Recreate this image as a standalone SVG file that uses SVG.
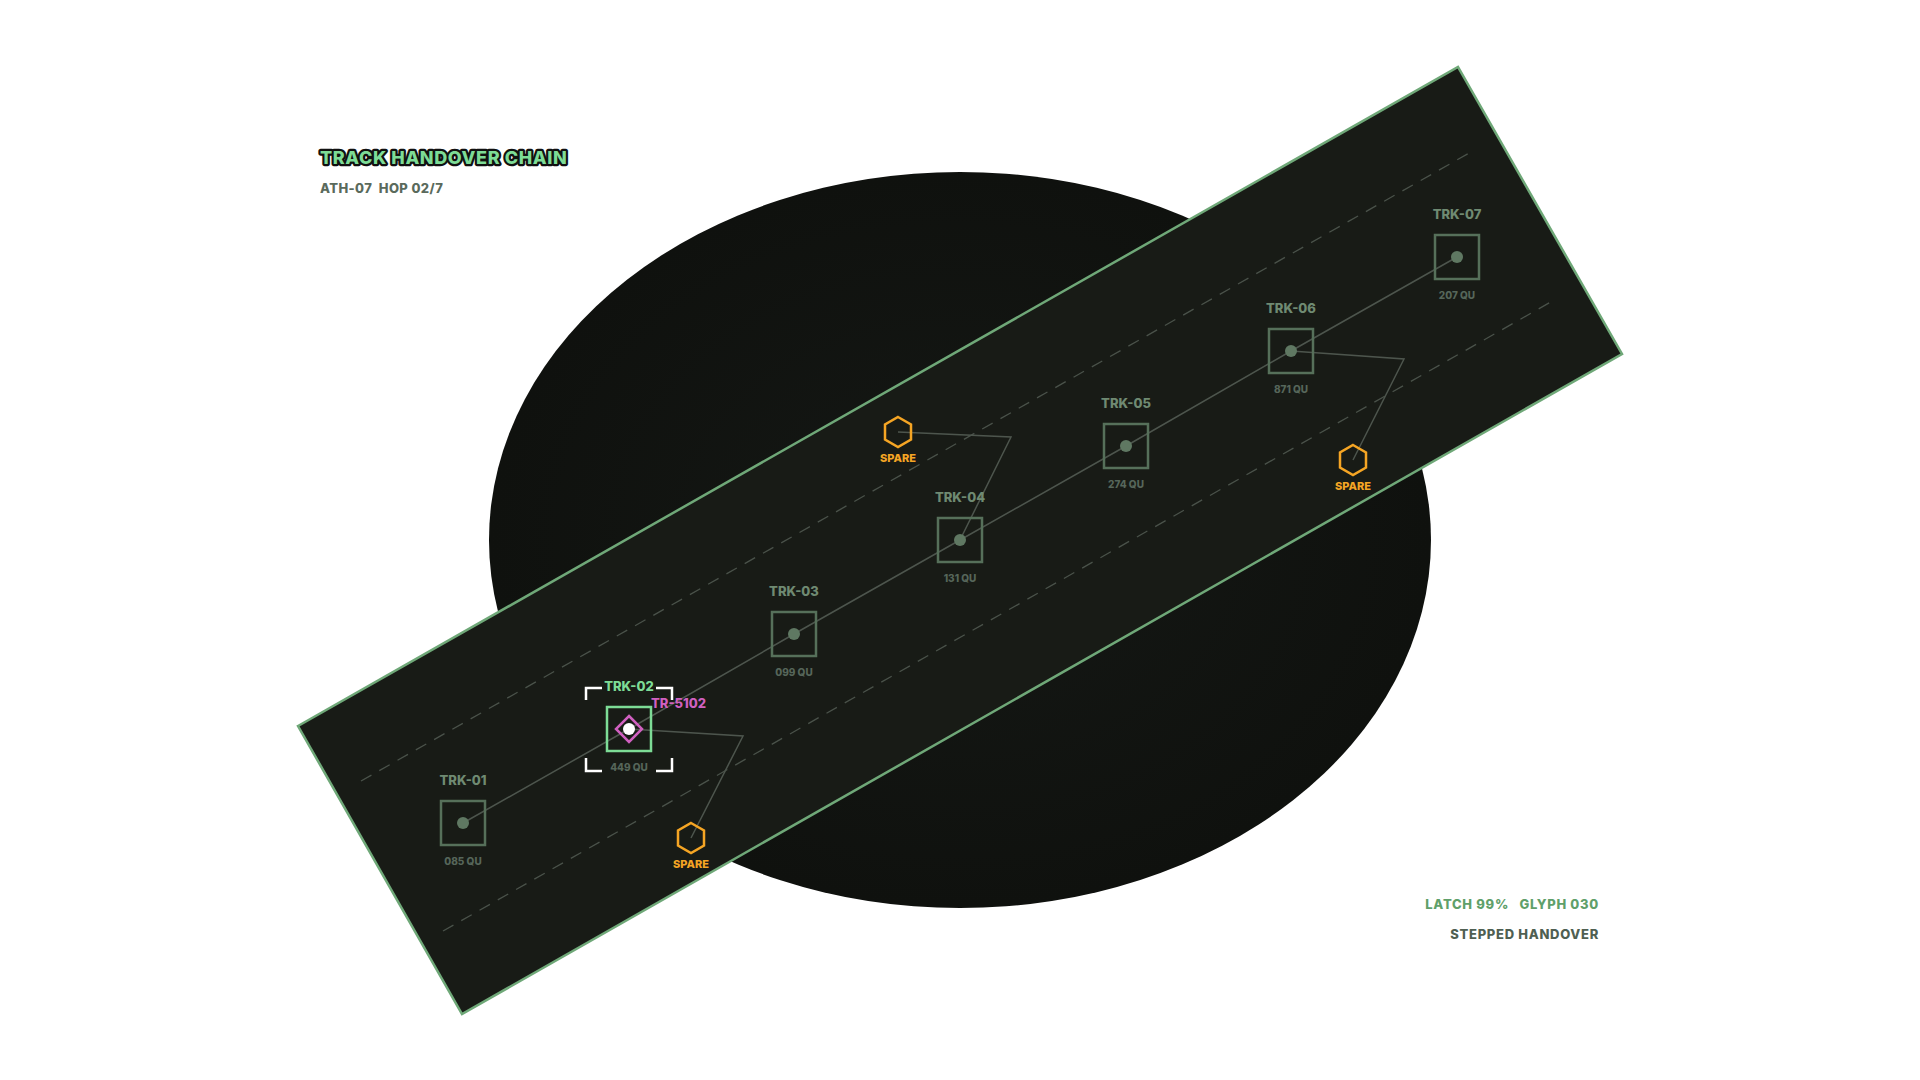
<svg xmlns="http://www.w3.org/2000/svg" width="1920" height="1080" viewBox="0 0 1920 1080">
<defs>
<radialGradient id="eg" cx="0.5" cy="0.5" r="0.5"><stop offset="0" stop-color="#151815"/><stop offset="1" stop-color="#0f110e"/></radialGradient>
<style>
text{font-family:"Inter","DejaVu Sans",sans-serif;font-weight:800;white-space:pre}
.nb{fill:none;stroke:#56705a;stroke-width:2.5}
.nd{fill:#5f7862}
.tl{fill:#6f8a72;font-size:13px;text-anchor:middle}
.ql{fill:#56665a;font-size:10px;text-anchor:middle}
.sp{fill:none;stroke:#f5a524;stroke-width:2.5}
.sl{fill:#f5a524;font-size:11px;text-anchor:middle}
.cn{fill:none;stroke:#4d554d;stroke-width:1.5}
.br{fill:none;stroke:#ffffff;stroke-width:2.5}
</style>
</defs>
<rect width="1920" height="1080" fill="#ffffff"/>
<ellipse cx="960" cy="540" rx="471" ry="368" fill="url(#eg)"/>
<polygon points="298,726 1458,67 1622,354 462,1014" fill="#181b16" stroke="#6fa878" stroke-width="2.5"/>
<g id="connectors">
<line x1="361" y1="781" x2="1471" y2="152" stroke="#4a524a" stroke-width="1.3" stroke-dasharray="12 9"/>
<line x1="443" y1="931" x2="1556" y2="299" stroke="#4a524a" stroke-width="1.3" stroke-dasharray="12 9"/>
<polyline class="cn" points="463,823 629,729 794,634 960,540 1126,446 1291,351 1457,257"/>
<polyline class="cn" points="898,432 1011,437 960,540"/>
<polyline class="cn" points="1291,351 1404,359 1353,460"/>
<polyline class="cn" points="629,729 743,736 691,838"/>
</g>
<g id="trk-01"><rect class="nb" x="441" y="801" width="44" height="44"/><circle class="nd" cx="463" cy="823" r="6"/><text class="tl" x="463" y="785">TRK-01</text><text class="ql" x="463" y="865">085 QU</text></g>
<g id="trk-02">
<path class="br" d="M586,700 V688 H602 M656,688 H672 V700 M586,758 V771 H602 M656,771 H672 V758"/>
<rect x="607" y="707" width="44" height="44" fill="none" stroke="#7ddc96" stroke-width="2.5"/>
<polygon points="629,716 642,729 629,742 616,729" fill="none" stroke="#d060c0" stroke-width="2.5"/>
<circle cx="629" cy="729" r="6" fill="#ffffff"/>
<text x="629" y="691" fill="#7ddc96" font-size="13" text-anchor="middle">TRK-02</text>
<text x="651" y="708" fill="#d060c0" font-size="13">TR-5102</text>
<text class="ql" x="629" y="771">449 QU</text></g>
<g id="trk-03"><rect class="nb" x="772" y="612" width="44" height="44"/><circle class="nd" cx="794" cy="634" r="6"/><text class="tl" x="794" y="596">TRK-03</text><text class="ql" x="794" y="676">099 QU</text></g>
<g id="trk-04"><rect class="nb" x="938" y="518" width="44" height="44"/><circle class="nd" cx="960" cy="540" r="6"/><text class="tl" x="960" y="502">TRK-04</text><text class="ql" x="960" y="582">131 QU</text></g>
<g id="trk-05"><rect class="nb" x="1104" y="424" width="44" height="44"/><circle class="nd" cx="1126" cy="446" r="6"/><text class="tl" x="1126" y="408">TRK-05</text><text class="ql" x="1126" y="488">274 QU</text></g>
<g id="trk-06"><rect class="nb" x="1269" y="329" width="44" height="44"/><circle class="nd" cx="1291" cy="351" r="6"/><text class="tl" x="1291" y="313">TRK-06</text><text class="ql" x="1291" y="393">871 QU</text></g>
<g id="trk-07"><rect class="nb" x="1435" y="235" width="44" height="44"/><circle class="nd" cx="1457" cy="257" r="6"/><text class="tl" x="1457" y="219">TRK-07</text><text class="ql" x="1457" y="299">207 QU</text></g>
<g id="spare-1"><polygon class="sp" points="898,417 911,424.5 911,439.5 898,447 885,439.5 885,424.5"/><text class="sl" x="898" y="462">SPARE</text></g>
<g id="spare-2"><polygon class="sp" points="1353,445 1366,452.5 1366,467.5 1353,475 1340,467.5 1340,452.5"/><text class="sl" x="1353" y="490">SPARE</text></g>
<g id="spare-3"><polygon class="sp" points="691,823 704,830.5 704,845.5 691,853 678,845.5 678,830.5"/><text class="sl" x="691" y="868">SPARE</text></g>
<g id="title">
<text x="320" y="164" font-size="18" letter-spacing="0.6" fill="#7ddc96" stroke="#111" stroke-width="4.5" paint-order="stroke" stroke-linejoin="round">TRACK HANDOVER CHAIN</text>
<text x="320" y="193" font-size="13" letter-spacing="0.4" fill="#5a6a5c">ATH-07  HOP 02/7</text>
</g>
<g id="legend">
<text x="1599" y="909" font-size="13" letter-spacing="0.7" fill="#5fa06a" text-anchor="end">LATCH 99%   GLYPH 030</text>
<text x="1599" y="939" font-size="13" letter-spacing="0.7" fill="#4f5f52" text-anchor="end">STEPPED HANDOVER</text>
</g>
</svg>
